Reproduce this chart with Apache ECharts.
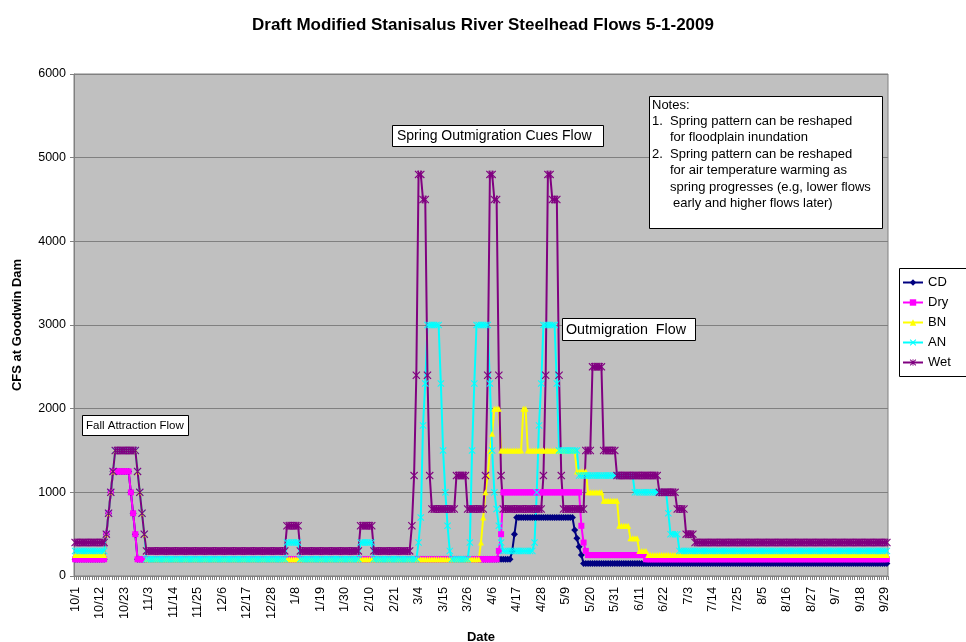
<!DOCTYPE html>
<html>
<head>
<meta charset="utf-8">
<script src="https://cdn.jsdelivr.net/npm/echarts@6/dist/echarts.min.js"></script>
<style>
  html, body { margin: 0; padding: 0; background: #fff; }
  #chart { width: 966px; height: 642px; }
</style>
</head>
<body>
<div id="chart"></div>
<script>
// daily flows 10/1/2008 - 9/30/2009, stored as [cfs, number of days] runs
const startDate = [2008, 9, 1];
const dayCount = 365;

const cdRuns = [
  [200, 14], [500, 1], [750, 1], [1000, 1], [1250, 8], [1000, 1], [750, 1], [500, 1],
  [200, 168], [300, 1], [500, 1], [700, 26], [550, 1], [450, 1], [350, 1], [250, 1],
  [150, 137]
];
const dryRuns = [
  [200, 14], [500, 1], [750, 1], [1000, 1], [1250, 8], [1000, 1], [750, 1], [500, 1],
  [200, 162], [300, 1], [500, 1], [1000, 35], [600, 1], [400, 1], [300, 1], [250, 26],
  [200, 109]
];
const bnRuns = [
  [250, 14], [500, 1], [750, 1], [1000, 1], [1250, 1], [1500, 10], [1250, 1], [1000, 1],
  [750, 1], [500, 1], [200, 150], [400, 1], [700, 1], [1000, 1], [1200, 1], [1500, 1],
  [1700, 1], [2000, 3], [1500, 10], [2000, 2], [1500, 22], [1250, 5], [1000, 7], [900, 7],
  [600, 5], [450, 4], [300, 4], [250, 108]
];
const anRuns = [
  [300, 14], [500, 1], [750, 1], [1000, 1], [1250, 1], [1500, 10], [1250, 1], [1000, 1],
  [750, 1], [500, 1], [200, 63], [400, 6], [200, 27], [400, 6], [200, 20], [400, 1],
  [700, 1], [1800, 1], [2300, 1], [3000, 6], [2300, 1], [1500, 1], [1000, 1], [600, 1],
  [300, 1], [200, 8], [400, 1], [1500, 1], [2300, 1], [3000, 6], [2300, 1], [1500, 1],
  [1000, 1], [800, 1], [600, 1], [400, 1], [300, 14], [400, 1], [1000, 1], [1800, 1],
  [2300, 1], [3000, 6], [2300, 1], [1500, 9], [1200, 25], [1000, 15], [750, 1], [500, 4],
  [300, 94]
];
const wetRuns = [
  [400, 14], [500, 1], [750, 1], [1000, 1], [1250, 1], [1500, 10], [1250, 1], [1000, 1],
  [750, 1], [500, 1], [300, 63], [600, 6], [300, 27], [600, 6], [300, 17], [600, 1],
  [1200, 1], [2400, 1], [4800, 2], [4500, 2], [2400, 1], [1200, 1], [800, 11], [1200, 5],
  [800, 8], [1200, 1], [2400, 1], [4800, 2], [4500, 2], [2400, 1], [1200, 1], [800, 18],
  [1200, 1], [2400, 1], [4800, 2], [4500, 3], [2400, 1], [1200, 1], [800, 10], [1500, 3],
  [2500, 5], [1500, 6], [1200, 19], [1000, 8], [800, 4], [500, 4], [400, 87]
];

const seriesNames = ['CD', 'Dry', 'BN', 'AN', 'Wet'];
const seriesRuns = [cdRuns, dryRuns, bnRuns, anRuns, wetRuns];

const FONT = "'Liberation Sans', Arial, sans-serif";
const colors = ['#000080', '#ff00ff', '#ffff00', '#00ffff', '#800080'];
const xMark = 'path://M0,1 L1,0 L5,4 L9,0 L10,1 L6,5 L10,9 L9,10 L5,6 L1,10 L0,9 L4,5 Z';
const starMark = 'path://M0,1 L1,0 L5,4 L9,0 L10,1 L6,5 L10,9 L9,10 L5,6 L1,10 L0,9 L4,5 Z M4.3,0 L5.7,0 L5.7,10 L4.3,10 Z';
const symbols = ['diamond', 'rect', 'triangle', xMark, starMark];
const symbolSizes = [7, 6, 6, 7, 8];

function expand(runs) {
  const out = [];
  runs.forEach(([v, n]) => {
    for (let i = 0; i < n; i++) out.push(v);
  });
  return out;
}

const dates = [];
for (let i = 0; i < dayCount; i++) {
  const d = new Date(Date.UTC(startDate[0], startDate[1], startDate[2] + i));
  dates.push((d.getUTCMonth() + 1) + '/' + d.getUTCDate());
}

const chart = echarts.init(document.getElementById('chart'));

const series = seriesNames.map((name, i) => ({
  name: name,
  type: 'line',
  data: expand(seriesRuns[i]),
  symbol: symbols[i],
  symbolSize: symbolSizes[i],
  symbolKeepAspect: true,
  showAllSymbol: true,
  animation: false,
  itemStyle: { color: colors[i] },
  lineStyle: { color: colors[i], width: 2 }
}));

function box(x, y, w, h) {
  return {
    type: 'rect', z: 100,
    shape: { x: x, y: y, width: w, height: h },
    style: { fill: '#fff', stroke: '#000', lineWidth: 1 }
  };
}
function label(text, x, y, size) {
  return {
    type: 'text', z: 101, x: x, y: y,
    style: { text: text, fill: '#000', fontSize: size, fontFamily: FONT, verticalAlign: 'middle' }
  };
}

const option = {
  backgroundColor: '#fff',
  animation: false,
  title: {
    text: 'Draft Modified Stanisalus River Steelhead Flows 5-1-2009',
    left: 'center',
    top: 12,
    textStyle: { fontSize: 17, fontWeight: 'bold', fontFamily: FONT, color: '#000' }
  },
  grid: {
    left: 74, right: 78, top: 74, bottom: 66,
    outerBoundsMode: 'none',
    containLabel: false,
    show: true, backgroundColor: '#c0c0c0', borderColor: '#808080', borderWidth: 1
  },
  legend: {
    z: 200,
    orient: 'vertical',
    left: 897,
    top: 271,
    itemWidth: 20,
    itemHeight: 8,
    itemGap: 7,
    textStyle: { fontSize: 13, fontFamily: FONT, color: '#000' },
    data: seriesNames
  },
  xAxis: {
    type: 'category',
    data: dates,
    boundaryGap: true,
    name: 'Date',
    nameLocation: 'middle',
    nameGap: 55,
    nameTextStyle: { fontSize: 13, fontWeight: 'bold', fontFamily: FONT, color: '#000' },
    axisLine: { lineStyle: { color: '#808080' } },
    axisTick: { show: true, interval: 0, length: 4, lineStyle: { color: '#808080' } },
    axisLabel: { interval: 10, rotate: 90, margin: 11, fontSize: 12.8, fontFamily: FONT, color: '#000' },
    splitLine: { show: false }
  },
  yAxis: {
    type: 'value',
    min: 0,
    max: 6000,
    interval: 1000,
    name: 'CFS at Goodwin Dam',
    nameLocation: 'middle',
    nameGap: 50,
    nameTextStyle: { fontSize: 13, fontWeight: 'bold', fontFamily: FONT, color: '#000' },
    axisLine: { show: true, lineStyle: { color: '#808080' } },
    axisTick: { show: true, length: 4, lineStyle: { color: '#808080' } },
    axisLabel: { margin: 8, fontSize: 12.5, fontFamily: FONT, color: '#000', formatter: (v) => String(v) },
    splitLine: { show: true, lineStyle: { color: '#808080', width: 1 } }
  },
  graphic: [
    box(899.5, 268.5, 80, 108),
    box(82.5, 415.5, 106, 20),
    label('Fall Attraction Flow', 86, 426, 11.5),
    box(392.5, 125.5, 211, 21),
    label('Spring Outmigration Cues Flow', 397, 136.5, 14),
    box(562.5, 318.5, 133, 22),
    label('Outmigration  Flow', 566, 330, 14.3),
    box(649.5, 96.5, 233, 132),
    label('Notes:', 652, 105, 13),
    label('1.', 652, 121.4, 13),
    label('Spring pattern can be reshaped', 670, 121.4, 13),
    label('for floodplain inundation', 670, 137.8, 13),
    label('2.', 652, 154.2, 13),
    label('Spring pattern can be reshaped', 670, 154.2, 13),
    label('for air temperature warming as', 670, 170.6, 13),
    label('spring progresses (e.g, lower flows', 670, 187, 13),
    label('early and higher flows later)', 673, 203.4, 13)
  ],
  series: series
};

chart.setOption(option);
</script>
</body>
</html>
